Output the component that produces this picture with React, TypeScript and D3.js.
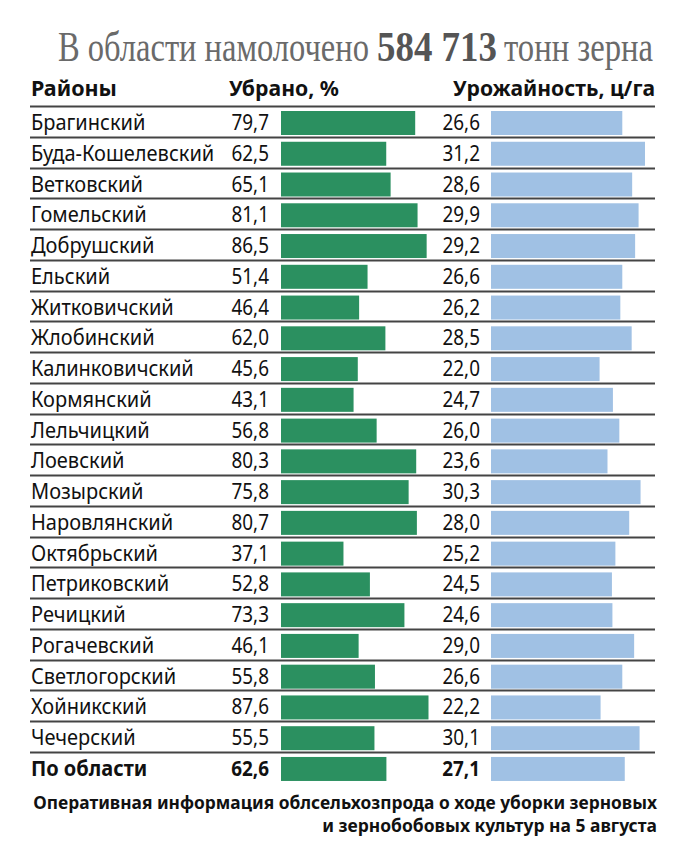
import React, { useEffect, useRef } from "react";
import * as d3 from "d3";

const districts = [
	"Брагинский",
	"Буда-Кошелевский",
	"Ветковский",
	"Гомельский",
	"Добрушский",
	"Ельский",
	"Житковичский",
	"Жлобинский",
	"Калинковичский",
	"Кормянский",
	"Лельчицкий",
	"Лоевский",
	"Мозырский",
	"Наровлянский",
	"Октябрьский",
	"Петриковский",
	"Речицкий",
	"Рогачевский",
	"Светлогорский",
	"Хойникский",
	"Чечерский",
	"По области",
];

const harvested = [
	79.7, 62.5, 65.1, 81.1, 86.5, 51.4, 46.4, 62.0, 45.6, 43.1, 56.8, 80.3, 75.8,
	80.7, 37.1, 52.8, 73.3, 46.1, 55.8, 87.6, 55.5, 62.6,
];

const yieldValues = [
	26.6, 31.2, 28.6, 29.9, 29.2, 26.6, 26.2, 28.5, 22.0, 24.7, 26.0, 23.6, 30.3,
	28.0, 25.2, 24.5, 24.6, 29.0, 26.6, 22.2, 30.1, 27.1,
];

const titleParts = ["В области намолочено", "584 713", "тонн зерна"];
const headers = ["Районы", "Убрано, %", "Урожайность, ц/га"];
const footerLines = [
	"Оперативная информация облсельхозпрода о ходе уборки зерновых",
	"и зернобобовых культур на 5 августа",
];

const W = 685;
const H = 851;
const FONT = "'Noto Sans', 'Open Sans', sans-serif";
const SERIF = "'Liberation Serif', 'DejaVu Serif', serif";
const GREEN = "#2b9060";
const BLUE = "#a0c1e4";

const fmt = (v: number) => v.toFixed(1).replace(".", ",");

// сжимает текст по горизонтали до нужной ширины
const fitText = (
	parent: d3.Selection<SVGSVGElement, unknown, null, undefined>,
	text: string,
	x: number,
	y: number,
	width: number,
	anchor: "start" | "end",
	attrs: Record<string, string | number>
) => {
	const t = parent.append("text").attr("text-anchor", anchor).text(text);
	Object.entries(attrs).forEach(([k, v]) => t.attr(k, v));
	const natural = (t.node() as SVGTextElement).getComputedTextLength() || width;
	t.attr("transform", `translate(${x},${y}) scale(${width / natural},1)`);
	return t;
};

const App: React.FC = () => {
	const svgRef = useRef<SVGSVGElement>(null);

	useEffect(() => {
		if (!svgRef.current) return;
		const svg = d3.select(svgRef.current);
		svg.selectAll("*").remove();

		const left = 30;
		const right = 655;
		const top = 106;

		const y = d3
			.scaleBand<string>()
			.domain(districts)
			.range([top, top + districts.length * 30.76]);

		const xGreen = d3.scaleLinear().domain([0, 87.6]).range([281, 428.5]);
		const xBlue = d3.scaleLinear().domain([0, 31.2]).range([491, 645]);

		// заголовок (три куска: обычный, жирный, обычный)
		const titleX = [58, 377, 504];
		const titleLen = [311, 120, 149];
		titleParts.forEach((t, i) => {
			fitText(svg, t, titleX[i], 61, titleLen[i], "start", {
				"font-family": SERIF,
				"font-size": 43,
				"font-weight": i === 1 ? "bold" : "normal",
				fill: i === 1 ? "#555" : "#6a6a6a",
			});
		});

		// шапка таблицы
		const headerX = [31, 229, 655];
		const headerLen = [86, 110, 202];
		headers.forEach((h, i) => {
			fitText(svg, h, headerX[i], 96, headerLen[i], i === 2 ? "end" : "start", {
				"font-family": FONT,
				"font-weight": "bold",
				"font-size": 21,
				fill: "#111",
			});
		});

		// разделители
		svg
			.append("g")
			.selectAll("line")
			.data(districts)
			.join("line")
			.attr("x1", left)
			.attr("x2", right)
			.attr("y1", (d) => Math.round(y(d)!) + 0.5)
			.attr("y2", (d) => Math.round(y(d)!) + 0.5)
			.attr("stroke", "#444")
			.attr("stroke-width", 2);

		const rows = svg
			.append("g")
			.selectAll("g")
			.data(districts)
			.join("g")
			.attr("transform", (d) => `translate(0,${y(d)})`);

		const isTotal = (i: number) => i === districts.length - 1;

		rows
			.append("text")
			.attr("transform", "translate(31,24) scale(0.91,1)")
			.attr("font-family", FONT)
			.attr("font-size", 22)
			.attr("font-weight", (d, i) => (isTotal(i) ? "bold" : "normal"))
			.attr("fill", "#111")
			.text((d) => d);

		rows
			.append("text")
			.attr("transform", "translate(269,24) scale(0.9,1)")
			.attr("text-anchor", "end")
			.attr("font-family", FONT)
			.attr("font-size", 21)
			.attr("font-weight", (d, i) => (isTotal(i) ? "bold" : "normal"))
			.attr("fill", "#111")
			.text((d, i) => fmt(harvested[i]));

		rows
			.append("rect")
			.attr("x", xGreen(0))
			.attr("y", 5)
			.attr("height", 24)
			.attr("width", (d, i) => xGreen(harvested[i]) - xGreen(0))
			.attr("fill", GREEN);

		rows
			.append("text")
			.attr("transform", "translate(480,24) scale(0.9,1)")
			.attr("text-anchor", "end")
			.attr("font-family", FONT)
			.attr("font-size", 21)
			.attr("font-weight", (d, i) => (isTotal(i) ? "bold" : "normal"))
			.attr("fill", "#111")
			.text((d, i) => fmt(yieldValues[i]));

		rows
			.append("rect")
			.attr("x", xBlue(0))
			.attr("y", 5)
			.attr("height", 24)
			.attr("width", (d, i) => xBlue(yieldValues[i]) - xBlue(0))
			.attr("fill", BLUE);

		// подпись
		const footLen = [624, 335];
		footerLines.forEach((t, i) => {
			fitText(svg, t, 657, 809 + i * 23, footLen[i], "end", {
				"font-family": FONT,
				"font-weight": "bold",
				"font-size": 18,
				fill: "#111",
			});
		});
	}, []);

	return (
		<svg
			ref={svgRef}
			width={W}
			height={H}
			style={{ position: "absolute", left: 0, top: 0, background: "#fff" }}
		/>
	);
};

export default App;
